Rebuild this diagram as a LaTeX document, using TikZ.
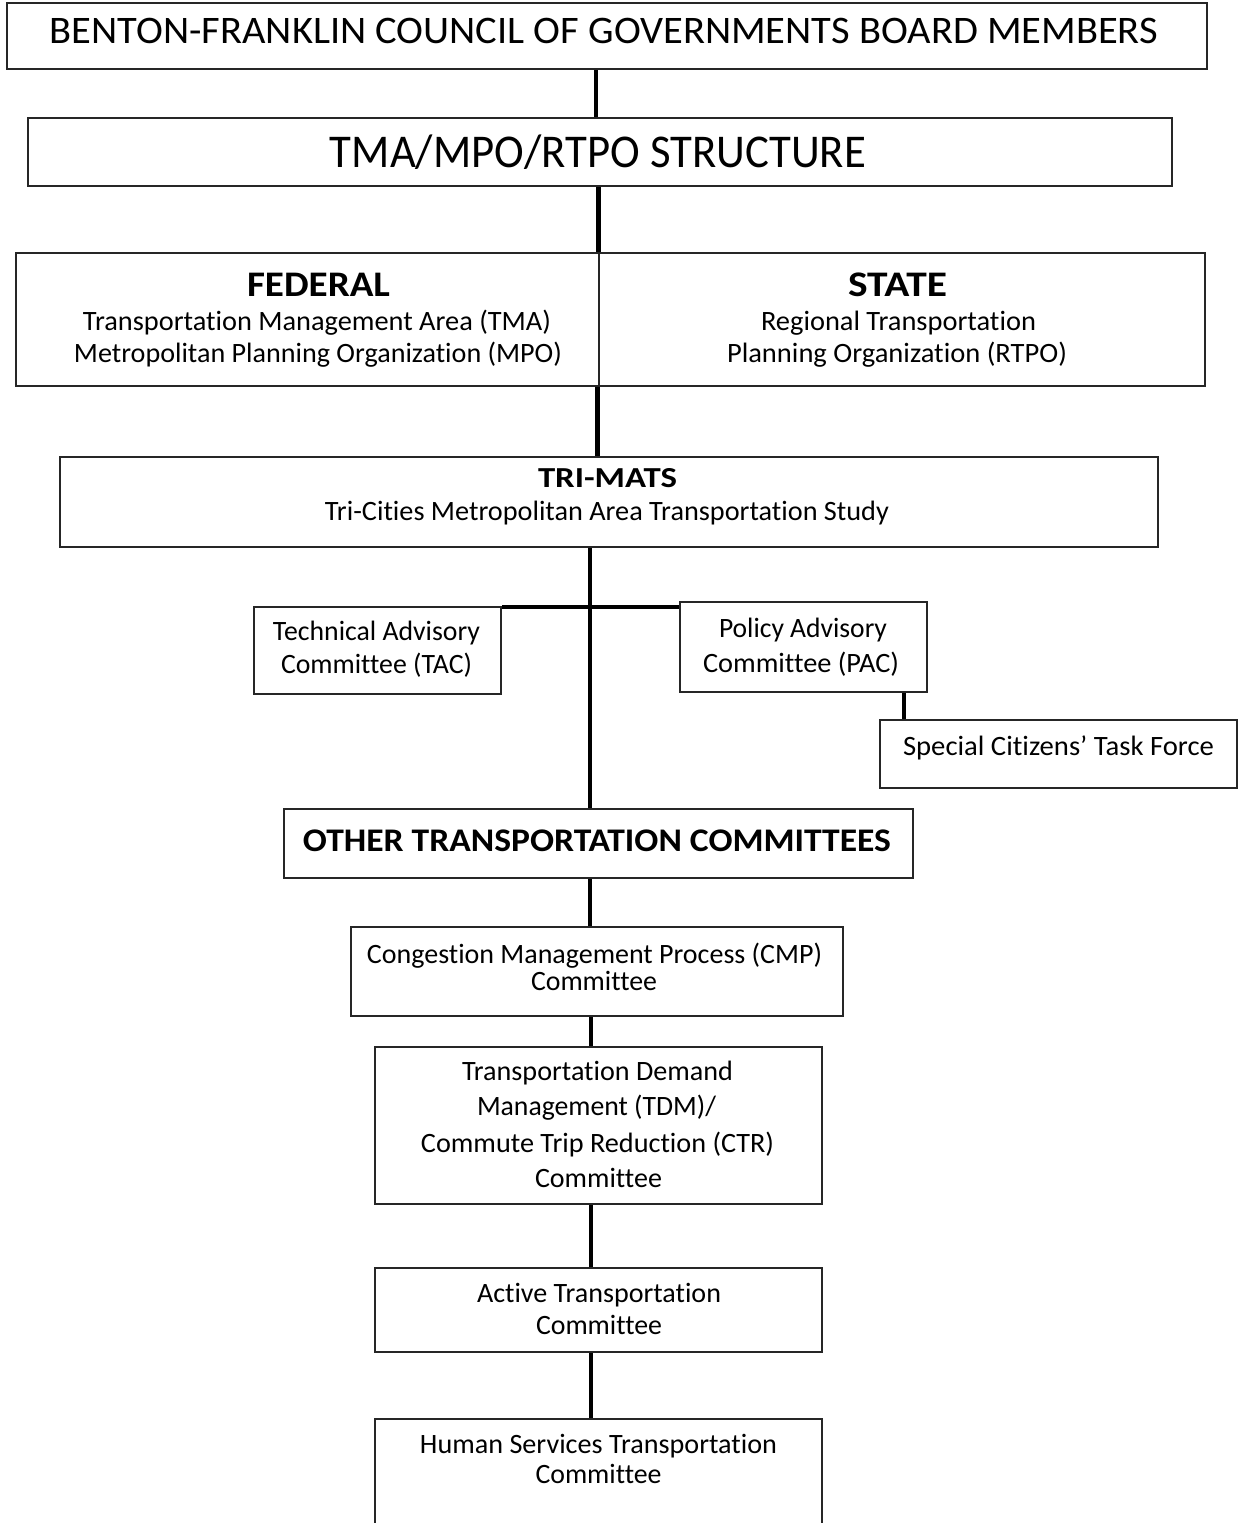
\documentclass[tikz,border=0pt]{standalone}
\usepackage{fontspec}
\setmainfont{Carlito}[Ligatures={NoCommon}]
\usepackage{graphicx}
\newcommand\fitw[3]{\resizebox{#1pt}{\height}{\fontsize{#2}{#2}\selectfont #3}}
\tikzset{
  box/.style={draw=black!85, line width=2pt, inner sep=0pt, rectangle},
  conn/.style={line width=4pt, black},
  thickconn/.style={line width=5pt, black},
  divider/.style={line width=2pt, black!85},
  txt/.style={anchor=base, inner sep=0pt, text=black}
}
\begin{document}
\begin{tikzpicture}[x=1pt, y=-1pt]
\useasboundingbox (0,0) rectangle (1238,1523);
% boxes
\node[box, minimum width=1200pt, minimum height=66pt] (b1) at (607,36) {};
\node[box, minimum width=1144pt, minimum height=68pt] (b2) at (600,152) {};
\node[box, minimum width=1189pt, minimum height=133pt] (b3) at (610.5,319.5) {};
\node[box, minimum width=1098pt, minimum height=90pt] (b4) at (609,502) {};
\node[box, minimum width=247pt, minimum height=87pt] (tac) at (377.5,650.5) {};
\node[box, minimum width=247pt, minimum height=90pt] (pac) at (803.5,647) {};
\node[box, minimum width=357pt, minimum height=68pt] (sctf) at (1058.5,754) {};
\node[box, minimum width=629pt, minimum height=69pt] (oth) at (598.5,843.5) {};
\node[box, minimum width=492pt, minimum height=89pt] (cmp) at (597,971.5) {};
\node[box, minimum width=447pt, minimum height=157pt] (tdm) at (598.5,1125.5) {};
\node[box, minimum width=447pt, minimum height=84pt] (act) at (598.5,1310) {};
\node[box, minimum width=447pt, minimum height=141pt] (hum) at (598.5,1489.5) {};
% x / y reference coordinates
\coordinate (xa) at (596,0);
\coordinate (xb) at (598,0);
\coordinate (xdiv) at (599,0);
\coordinate (xc) at (597,0);
\coordinate (xd) at (590,0);
\coordinate (xe) at (591,0);
\coordinate (xp) at (904,0);
\coordinate (hy) at (0,607);
% connectors
\draw[conn] (b1.south -| xa) -- (b2.north -| xa);
\draw[thickconn] (b2.south -| xb) -- (b3.north -| xb);
\draw[divider] (b3.north -| xdiv) -- (b3.south -| xdiv);
\draw[thickconn] (b3.south -| xc) -- (b4.north -| xc);
\draw[conn] (b4.south -| xd) -- (oth.north -| xd);
\draw[conn] (tac.east |- hy) -- (pac.west |- hy);
\draw[conn] (pac.south -| xp) -- (sctf.north -| xp);
\draw[conn] (oth.south -| xd) -- (cmp.north -| xd);
\draw[conn] (cmp.south -| xe) -- (tdm.north -| xe);
\draw[conn] (tdm.south -| xe) -- (act.north -| xe);
\draw[conn] (act.south -| xe) -- (hum.north -| xe);
% texts
\node[txt] (t1) at (604,43) {\fitw{1108}{39}{BENTON-FRANKLIN COUNCIL OF GOVERNMENTS BOARD MEMBERS}};
\node[txt] (t2) at (598,167) {\fitw{536}{47}{TMA/MPO/RTPO STRUCTURE}};
\node[txt] (t3) at (318.5,296) {\fitw{143}{36}{\bfseries FEDERAL}};
\node[txt] (t4) at (317,330) {\fitw{468}{28}{Transportation Management Area (TMA)}};
\node[txt] (t5) at (318,362) {\fitw{488}{28}{Metropolitan Planning Organization (MPO)}};
\node[txt] (t6) at (897.5,296) {\fitw{99}{36}{\bfseries STATE}};
\node[txt] (t7) at (898.5,330) {\fitw{275}{28}{Regional Transportation}};
\node[txt] (t8) at (897,362) {\fitw{340}{28}{Planning Organization (RTPO)}};
\node[txt] (t9) at (607.5,487) {\fitw{139}{29}{\bfseries TRI-MATS}};
\node[txt] (t10) at (607,520) {\fitw{564}{28}{Tri-Cities Metropolitan Area Transportation Study}};
\node[txt] (t11) at (376.5,640) {\fitw{207}{28}{Technical Advisory}};
\node[txt] (t12) at (376.5,673) {\fitw{191}{28}{Committee (TAC)}};
\node[txt] (t13) at (803,637) {\fitw{168}{28}{Policy Advisory}};
\node[txt] (t14) at (801,672) {\fitw{196}{28}{Committee (PAC)}};
\node[txt] (t15) at (1058.5,755) {\fitw{311}{28}{Special Citizens’ Task Force}};
\node[txt] (t16) at (597,851) {\fitw{588}{33}{\bfseries OTHER TRANSPORTATION COMMITTEES}};
\node[txt] (t17) at (594.5,963) {\fitw{455}{28}{Congestion Management Process (CMP)}};
\node[txt] (t18) at (594,990) {\fitw{126}{28}{Committee}};
\node[txt] (t19) at (597.5,1080) {\fitw{271}{28}{Transportation Demand}};
\node[txt] (t20) at (596.5,1115) {\fitw{239}{28}{Management (TDM)/}};
\node[txt] (t21) at (597.5,1152) {\fitw{353}{28}{Commute Trip Reduction (CTR)}};
\node[txt] (t22) at (598.5,1187) {\fitw{127}{28}{Committee}};
\node[txt] (t23) at (599,1302) {\fitw{244}{28}{Active Transportation}};
\node[txt] (t24) at (599,1334) {\fitw{126}{28}{Committee}};
\node[txt] (t25) at (598.5,1453) {\fitw{357}{28}{Human Services Transportation}};
\node[txt] (t26) at (598.5,1483) {\fitw{126}{28}{Committee}};
\end{tikzpicture}
\end{document}
